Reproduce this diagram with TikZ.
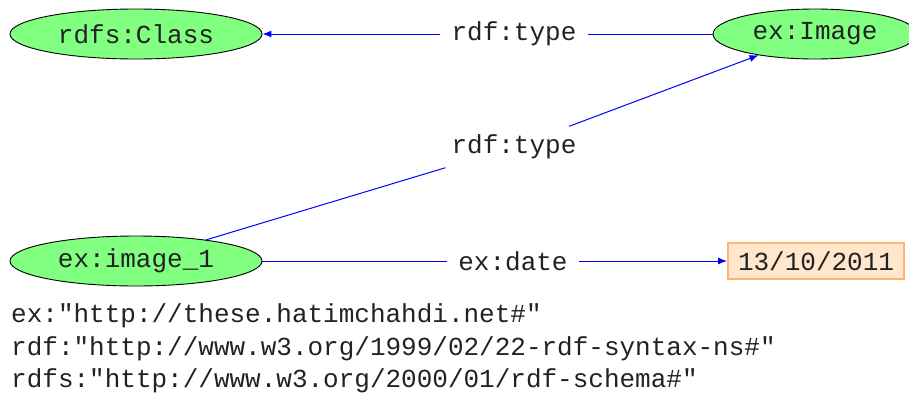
\documentclass[tikz,border=0pt]{standalone}
\usepackage{fontspec}
\setmonofont{Liberation Mono}
\usetikzlibrary{shapes.geometric,arrows.meta}
\definecolor{nodegreen}{HTML}{80FF80}
\definecolor{litfill}{HTML}{FFE6CC}
\definecolor{litdraw}{HTML}{FFB570}
\definecolor{txt}{HTML}{222222}
\tikzset{
  res/.style={ellipse, draw=black, line width=0.9pt, fill=nodegreen, minimum width=252pt, minimum height=50pt, inner sep=0pt, font=\fontsize{26}{30}\selectfont\ttfamily, text=txt},
  lit/.style={rectangle, draw=litdraw, line width=2pt, fill=litfill, minimum width=176pt, minimum height=36pt, inner sep=0pt, font=\fontsize{26}{30}\selectfont\ttfamily, text=txt},
  elabel/.style={fill=white, inner xsep=11pt, inner ysep=0pt, minimum height=41pt, font=\fontsize{26}{30}\selectfont\ttfamily, text=txt},
  ns/.style={anchor=west, inner sep=0pt, font=\fontsize{26}{30}\selectfont\ttfamily, text=txt},
  edge/.style={draw=blue, line width=1pt},
  arr/.style={edge, -{Latex[length=9pt,width=7pt]}},
}
\begin{document}
\begin{tikzpicture}[x=1pt,y=-1pt]
\useasboundingbox (0,0) rectangle (909,394);
\node[res] (class) at (136,34) {rdfs:Class};
\node[res, minimum width=204pt] (image) at (815,34) {ex:Image};
\node[res] (img1) at (136,261) {ex:image\_1};
\node[lit] (date) at (816,261) {13/10/2011};
\node[elabel] (t1) at (514,34) {rdf:type};
\node[elabel] (t2) at (514,147) {rdf:type};
\node[elabel] (d) at (513,261) {ex:date};
\draw[edge] (image) -- (t1);
\draw[arr] (t1) -- (class);
\draw[edge] (img1) -- (t2);
\draw[arr] (t2) -- (image);
\draw[edge] (img1) -- (d);
\draw[arr] (d) -- (date);
\node[ns] (n1) at (11,316) {ex:"http://these.hatimchahdi.net\#"};
\node[ns] (n2) at (11,349) {rdf:"http://www.w3.org/1999/02/22-rdf-syntax-ns\#"};
\node[ns] (n3) at (11,381) {rdfs:"http://www.w3.org/2000/01/rdf-schema\#"};
\end{tikzpicture}
\end{document}
